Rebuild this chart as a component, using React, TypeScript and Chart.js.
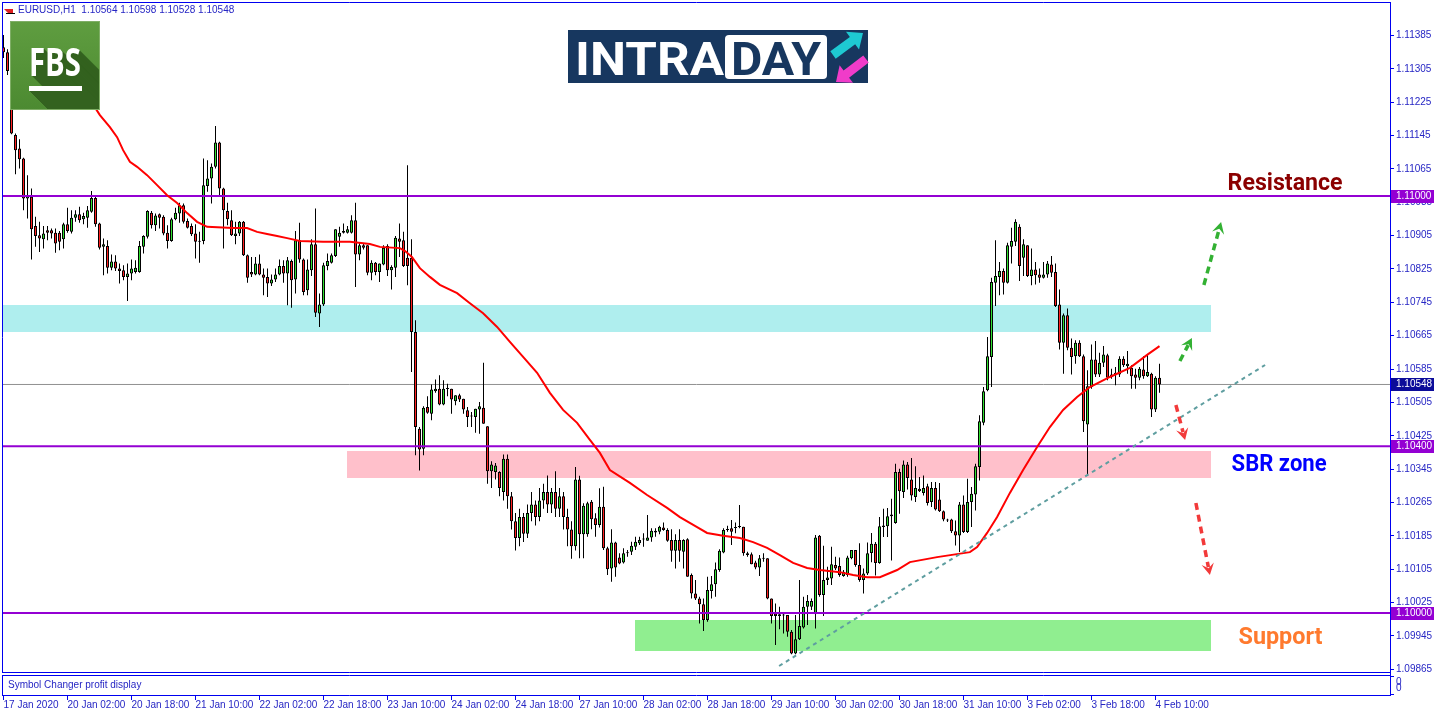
import React, { useEffect, useRef } from 'react';
import { Chart, registerables } from 'chart.js';

Chart.register(...registerables);

// ---------------- data ----------------
const timeLabels = ['17 Jan 2020', '20 Jan 02:00', '20 Jan 18:00', '21 Jan 10:00', '22 Jan 02:00', '22 Jan 18:00', '23 Jan 10:00', '24 Jan 02:00', '24 Jan 18:00', '27 Jan 10:00', '28 Jan 02:00', '28 Jan 18:00', '29 Jan 10:00', '30 Jan 02:00', '30 Jan 18:00', '31 Jan 10:00', '3 Feb 02:00', '3 Feb 18:00', '4 Feb 10:00'];
const timeTickBars = [0, 16, 32, 48, 64, 80, 96, 112, 128, 144, 160, 176, 192, 208, 224, 240, 256, 272, 288];
const priceTicks = ['1.11385', '1.11305', '1.11225', '1.11145', '1.11065', '1.10985', '1.10905', '1.10825', '1.10745', '1.10665', '1.10585', '1.10505', '1.10425', '1.10345', '1.10265', '1.10185', '1.10105', '1.10025', '1.09945', '1.09865'];

const opens = [
  1.11357, 1.11345, 1.11300, 1.11146, 1.11114, 1.11090, 1.10994, 1.10998, 1.10928, 1.10906,
  1.10896, 1.10918, 1.10918, 1.10912, 1.10912, 1.10896, 1.10932, 1.10914, 1.10948, 1.10956,
  1.10944, 1.10948, 1.10962, 1.10995, 1.10934, 1.10878, 1.10880, 1.10828, 1.10843, 1.10826,
  1.10822, 1.10806, 1.10814, 1.10818, 1.10818, 1.10878, 1.10902, 1.10960, 1.10930, 1.10956,
  1.10950, 1.10912, 1.10892, 1.10944, 1.10958, 1.10978, 1.10940, 1.10928, 1.10910, 1.10891,
  1.10892, 1.11024, 1.11042, 1.11070, 1.11128, 1.11018, 1.10964, 1.10942, 1.10904, 1.10910,
  1.10938, 1.10858, 1.10818, 1.10812, 1.10838, 1.10812, 1.10806, 1.10790, 1.10800, 1.10812,
  1.10832, 1.10814, 1.10844, 1.10800, 1.10894, 1.10848, 1.10774, 1.10822, 1.10884, 1.10718,
  1.10740, 1.10832, 1.10840, 1.10856, 1.10902, 1.10912, 1.10912, 1.10912, 1.10942, 1.10860,
  1.10882, 1.10882, 1.10816, 1.10840, 1.10818, 1.10836, 1.10880, 1.10822, 1.10828, 1.10898,
  1.10894, 1.10852, 1.10852, 1.10674, 1.10442, 1.10394, 1.10494, 1.10478, 1.10532, 1.10538,
  1.10500, 1.10538, 1.10538, 1.10508, 1.10522, 1.10514, 1.10486, 1.10472, 1.10470, 1.10488,
  1.10492, 1.10448, 1.10340, 1.10338, 1.10338, 1.10290, 1.10370, 1.10280, 1.10220, 1.10180,
  1.10230, 1.10190, 1.10240, 1.10260, 1.10230, 1.10270, 1.10290, 1.10260, 1.10290, 1.10250,
  1.10280, 1.10230, 1.10200, 1.10160, 1.10320, 1.10189, 1.10189, 1.10267, 1.10227, 1.10211,
  1.10255, 1.10155, 1.10107, 1.10169, 1.10133, 1.10121, 1.10143, 1.10147, 1.10159, 1.10167,
  1.10176, 1.10173, 1.10181, 1.10193, 1.10195, 1.10205, 1.10199, 1.10175, 1.10149, 1.10175,
  1.10147, 1.10177, 1.10091, 1.10047, 1.10035, 1.10021, 1.09983, 1.10053, 1.10069, 1.10103,
  1.10145, 1.10199, 1.10203, 1.10204, 1.10207, 1.10207, 1.10143, 1.10141, 1.10121, 1.10109,
  1.10131, 1.10131, 1.10035, 1.09999, 1.09997, 1.09995, 1.09995, 1.09955, 1.09903, 1.09937,
  1.09965, 1.10015, 1.10015, 1.09999, 1.10185, 1.10043, 1.10079, 1.10083, 1.10115, 1.10113,
  1.10089, 1.10091, 1.10131, 1.10151, 1.10115, 1.10079, 1.10095, 1.10144, 1.10166, 1.10120,
  1.10206, 1.10208, 1.10232, 1.10216, 1.10338, 1.10290, 1.10356, 1.10320, 1.10278, 1.10298,
  1.10288, 1.10304, 1.10266, 1.10300, 1.10272, 1.10244, 1.10224, 1.10224, 1.10196, 1.10186,
  1.10260, 1.10194, 1.10266, 1.10284, 1.10350, 1.10456, 1.10534, 1.10614, 1.10792, 1.10806,
  1.10820, 1.10792, 1.10878, 1.10890, 1.10926, 1.10852, 1.10882, 1.10808, 1.10824, 1.10812,
  1.10804, 1.10812, 1.10836, 1.10818, 1.10740, 1.10648, 1.10714, 1.10636, 1.10616, 1.10648,
  1.10616, 1.10452, 1.10542, 1.10608, 1.10572, 1.10600, 1.10618, 1.10572, 1.10570, 1.10572,
  1.10610, 1.10592, 1.10588, 1.10572, 1.10564, 1.10584, 1.10568, 1.10574, 1.10488, 1.10564,
];
const highs = [
  1.11386, 1.11352, 1.11310, 1.11150, 1.11136, 1.11092, 1.11050, 1.11018, 1.10950, 1.10938,
  1.10928, 1.10928, 1.10922, 1.10922, 1.10916, 1.10936, 1.10972, 1.10966, 1.10966, 1.10974,
  1.10960, 1.10976, 1.11012, 1.11002, 1.10936, 1.10898, 1.10894, 1.10860, 1.10858, 1.10838,
  1.10834, 1.10838, 1.10848, 1.10846, 1.10892, 1.10906, 1.10966, 1.10964, 1.10958, 1.10958,
  1.10954, 1.10930, 1.10948, 1.10972, 1.10984, 1.10982, 1.10946, 1.10934, 1.10932, 1.10914,
  1.11090, 1.11086, 1.11078, 1.11168, 1.11130, 1.11020, 1.10984, 1.10966, 1.10938, 1.10940,
  1.10940, 1.10860, 1.10854, 1.10854, 1.10860, 1.10826, 1.10826, 1.10812, 1.10826, 1.10848,
  1.10846, 1.10854, 1.10848, 1.10916, 1.10936, 1.10850, 1.10848, 1.10896, 1.10970, 1.10766,
  1.10840, 1.10862, 1.10862, 1.10920, 1.10926, 1.10934, 1.10928, 1.10954, 1.10984, 1.10888,
  1.10886, 1.10882, 1.10846, 1.10842, 1.10838, 1.10882, 1.10884, 1.10834, 1.10904, 1.10934,
  1.10914, 1.11074, 1.10896, 1.10702, 1.10446, 1.10496, 1.10520, 1.10548, 1.10560, 1.10570,
  1.10558, 1.10550, 1.10538, 1.10522, 1.10526, 1.10514, 1.10494, 1.10482, 1.10490, 1.10506,
  1.10600, 1.10448, 1.10364, 1.10360, 1.10340, 1.10380, 1.10380, 1.10290, 1.10240, 1.10250,
  1.10240, 1.10260, 1.10290, 1.10270, 1.10300, 1.10310, 1.10330, 1.10300, 1.10340, 1.10300,
  1.10290, 1.10250, 1.10220, 1.10350, 1.10329, 1.10263, 1.10267, 1.10271, 1.10239, 1.10299,
  1.10303, 1.10159, 1.10201, 1.10171, 1.10143, 1.10155, 1.10151, 1.10171, 1.10183, 1.10183,
  1.10191, 1.10235, 1.10203, 1.10203, 1.10209, 1.10217, 1.10203, 1.10201, 1.10189, 1.10201,
  1.10177, 1.10179, 1.10095, 1.10079, 1.10039, 1.10035, 1.10087, 1.10089, 1.10121, 1.10153,
  1.10203, 1.10209, 1.10223, 1.10217, 1.10259, 1.10207, 1.10147, 1.10145, 1.10125, 1.10139,
  1.10143, 1.10131, 1.10035, 1.10023, 1.10015, 1.09999, 1.09995, 1.09959, 1.09995, 1.10079,
  1.10039, 1.10043, 1.10035, 1.10187, 1.10187, 1.10161, 1.10111, 1.10159, 1.10135, 1.10133,
  1.10103, 1.10137, 1.10151, 1.10151, 1.10167, 1.10107, 1.10169, 1.10192, 1.10170, 1.10230,
  1.10250, 1.10252, 1.10274, 1.10358, 1.10346, 1.10366, 1.10362, 1.10372, 1.10352, 1.10326,
  1.10330, 1.10310, 1.10314, 1.10314, 1.10312, 1.10246, 1.10226, 1.10226, 1.10222, 1.10266,
  1.10282, 1.10322, 1.10302, 1.10358, 1.10474, 1.10542, 1.10662, 1.10804, 1.10894, 1.10842,
  1.10826, 1.10888, 1.10924, 1.10944, 1.10932, 1.10896, 1.10882, 1.10874, 1.10842, 1.10826,
  1.10842, 1.10844, 1.10856, 1.10838, 1.10776, 1.10718, 1.10730, 1.10658, 1.10654, 1.10654,
  1.10620, 1.10582, 1.10644, 1.10652, 1.10624, 1.10640, 1.10622, 1.10586, 1.10590, 1.10616,
  1.10616, 1.10628, 1.10594, 1.10586, 1.10590, 1.10616, 1.10620, 1.10576, 1.10568, 1.10598,
];
const lows = [
  1.11331, 1.11290, 1.11148, 1.11052, 1.11066, 1.10966, 1.10946, 1.10848, 1.10878, 1.10866,
  1.10874, 1.10894, 1.10898, 1.10864, 1.10870, 1.10874, 1.10912, 1.10910, 1.10938, 1.10936,
  1.10932, 1.10924, 1.10960, 1.10926, 1.10872, 1.10810, 1.10814, 1.10822, 1.10820, 1.10790,
  1.10798, 1.10748, 1.10798, 1.10814, 1.10816, 1.10862, 1.10898, 1.10922, 1.10916, 1.10922,
  1.10906, 1.10874, 1.10890, 1.10942, 1.10936, 1.10934, 1.10922, 1.10904, 1.10850, 1.10840,
  1.10884, 1.11010, 1.10982, 1.11066, 1.11002, 1.10874, 1.10930, 1.10904, 1.10884, 1.10904,
  1.10856, 1.10792, 1.10806, 1.10810, 1.10810, 1.10762, 1.10758, 1.10784, 1.10794, 1.10810,
  1.10792, 1.10738, 1.10732, 1.10766, 1.10840, 1.10762, 1.10762, 1.10808, 1.10710, 1.10686,
  1.10736, 1.10822, 1.10838, 1.10854, 1.10878, 1.10910, 1.10910, 1.10910, 1.10782, 1.10846,
  1.10872, 1.10810, 1.10798, 1.10810, 1.10794, 1.10834, 1.10808, 1.10776, 1.10806, 1.10854,
  1.10830, 1.10786, 1.10578, 1.10378, 1.10342, 1.10378, 1.10478, 1.10462, 1.10528, 1.10498,
  1.10498, 1.10520, 1.10478, 1.10498, 1.10506, 1.10478, 1.10446, 1.10446, 1.10432, 1.10430,
  1.10454, 1.10310, 1.10300, 1.10320, 1.10280, 1.10270, 1.10250, 1.10200, 1.10150, 1.10160,
  1.10170, 1.10180, 1.10220, 1.10210, 1.10220, 1.10250, 1.10240, 1.10240, 1.10230, 1.10230,
  1.10200, 1.10160, 1.10130, 1.10150, 1.10131, 1.10131, 1.10183, 1.10201, 1.10183, 1.10205,
  1.10151, 1.10091, 1.10075, 1.10087, 1.10117, 1.10119, 1.10135, 1.10139, 1.10151, 1.10163,
  1.10159, 1.10173, 1.10171, 1.10183, 1.10189, 1.10197, 1.10171, 1.10123, 1.10107, 1.10123,
  1.10107, 1.10087, 1.10035, 1.10031, 1.09975, 1.09957, 1.09979, 1.10035, 1.10039, 1.10099,
  1.10143, 1.10195, 1.10163, 1.10191, 1.10203, 1.10137, 1.10135, 1.10117, 1.10105, 1.10089,
  1.10123, 1.10033, 1.09975, 1.09923, 1.09961, 1.09951, 1.09943, 1.09901, 1.09901, 1.09935,
  1.09963, 1.09971, 1.10007, 1.09963, 1.10039, 1.09993, 1.10067, 1.10067, 1.10103, 1.10087,
  1.10087, 1.10087, 1.10129, 1.10111, 1.10075, 1.10047, 1.10091, 1.10122, 1.10090, 1.10118,
  1.10182, 1.10182, 1.10126, 1.10214, 1.10238, 1.10276, 1.10296, 1.10270, 1.10266, 1.10290,
  1.10282, 1.10258, 1.10254, 1.10246, 1.10242, 1.10220, 1.10218, 1.10192, 1.10162, 1.10146,
  1.10192, 1.10192, 1.10206, 1.10246, 1.10318, 1.10450, 1.10532, 1.10542, 1.10736, 1.10762,
  1.10764, 1.10790, 1.10838, 1.10880, 1.10796, 1.10808, 1.10806, 1.10786, 1.10788, 1.10792,
  1.10802, 1.10804, 1.10806, 1.10734, 1.10632, 1.10574, 1.10630, 1.10572, 1.10598, 1.10614,
  1.10434, 1.10330, 1.10538, 1.10566, 1.10566, 1.10590, 1.10558, 1.10562, 1.10546, 1.10566,
  1.10590, 1.10574, 1.10538, 1.10538, 1.10558, 1.10562, 1.10566, 1.10470, 1.10482, 1.10528,
];
const closes = [
  1.11345, 1.11300, 1.11150, 1.11110, 1.11088, 1.10994, 1.11002, 1.10920, 1.10904, 1.10898,
  1.10910, 1.10912, 1.10910, 1.10886, 1.10890, 1.10932, 1.10916, 1.10948, 1.10956, 1.10942,
  1.10952, 1.10966, 1.10995, 1.10932, 1.10876, 1.10884, 1.10828, 1.10843, 1.10826, 1.10820,
  1.10806, 1.10814, 1.10826, 1.10828, 1.10880, 1.10904, 1.10964, 1.10930, 1.10953, 1.10948,
  1.10910, 1.10892, 1.10944, 1.10960, 1.10978, 1.10938, 1.10924, 1.10908, 1.10890, 1.10890,
  1.11026, 1.11042, 1.11070, 1.11128, 1.11018, 1.10966, 1.10944, 1.10906, 1.10910, 1.10938,
  1.10858, 1.10804, 1.10812, 1.10838, 1.10812, 1.10804, 1.10790, 1.10800, 1.10812, 1.10832,
  1.10814, 1.10846, 1.10798, 1.10894, 1.10848, 1.10770, 1.10824, 1.10884, 1.10720, 1.10740,
  1.10834, 1.10844, 1.10858, 1.10920, 1.10912, 1.10916, 1.10920, 1.10942, 1.10860, 1.10882,
  1.10876, 1.10816, 1.10840, 1.10818, 1.10838, 1.10876, 1.10822, 1.10830, 1.10900, 1.10890,
  1.10832, 1.10832, 1.10674, 1.10446, 1.10392, 1.10492, 1.10480, 1.10536, 1.10538, 1.10500,
  1.10538, 1.10537, 1.10512, 1.10522, 1.10512, 1.10488, 1.10470, 1.10471, 1.10490, 1.10496,
  1.10454, 1.10340, 1.10356, 1.10354, 1.10300, 1.10370, 1.10280, 1.10220, 1.10180, 1.10230,
  1.10190, 1.10240, 1.10260, 1.10230, 1.10270, 1.10290, 1.10260, 1.10290, 1.10250, 1.10280,
  1.10230, 1.10200, 1.10160, 1.10320, 1.10189, 1.10257, 1.10263, 1.10225, 1.10211, 1.10255,
  1.10155, 1.10105, 1.10169, 1.10109, 1.10119, 1.10143, 1.10145, 1.10161, 1.10171, 1.10175,
  1.10177, 1.10181, 1.10197, 1.10197, 1.10207, 1.10199, 1.10173, 1.10149, 1.10175, 1.10149,
  1.10175, 1.10087, 1.10047, 1.10035, 1.10021, 1.09983, 1.10055, 1.10069, 1.10105, 1.10149,
  1.10199, 1.10200, 1.10195, 1.10205, 1.10206, 1.10143, 1.10139, 1.10117, 1.10109, 1.10131,
  1.10130, 1.10035, 1.09993, 1.09993, 1.09993, 1.09994, 1.09955, 1.09903, 1.09937, 1.09969,
  1.10015, 1.10029, 1.10029, 1.10181, 1.10043, 1.10079, 1.10085, 1.10117, 1.10107, 1.10091,
  1.10099, 1.10133, 1.10151, 1.10115, 1.10079, 1.10095, 1.10143, 1.10166, 1.10120, 1.10208,
  1.10210, 1.10232, 1.10236, 1.10338, 1.10292, 1.10356, 1.10324, 1.10282, 1.10300, 1.10292,
  1.10300, 1.10264, 1.10300, 1.10248, 1.10244, 1.10224, 1.10222, 1.10196, 1.10186, 1.10260,
  1.10194, 1.10266, 1.10286, 1.10352, 1.10460, 1.10532, 1.10616, 1.10794, 1.10808, 1.10820,
  1.10792, 1.10882, 1.10892, 1.10938, 1.10832, 1.10884, 1.10808, 1.10824, 1.10810, 1.10804,
  1.10812, 1.10838, 1.10816, 1.10736, 1.10648, 1.10714, 1.10636, 1.10614, 1.10648, 1.10616,
  1.10460, 1.10544, 1.10608, 1.10572, 1.10600, 1.10620, 1.10564, 1.10566, 1.10576, 1.10610,
  1.10594, 1.10598, 1.10568, 1.10564, 1.10586, 1.10568, 1.10578, 1.10488, 1.10564, 1.10548,
];

// moving average (bar index, price)
const maBars = [16, 21, 24.1, 26.6, 28.4, 29.9, 31.6, 33.4, 35.9, 38.4, 40.9, 43.4,
  45.9, 48.4, 50.9, 57.4, 60.9, 63.4, 65.9, 68.4, 70.9, 74.1,
  79.9, 86.6, 91.6, 94.1, 99.1, 100.4, 102.1, 104.1, 106.6, 109.1,
  113.4, 116.6, 119.9, 123.4, 126.6, 129.9, 133.4, 136.6, 139.9, 143.4,
  146.6, 149.1, 151.6, 156.6, 160.9, 165.9, 169.1, 173.4, 175.9, 179.9,
  184.1, 187.4, 190.9, 194.1, 197.4, 200.9, 204.1, 209.1, 212.4, 215.9,
  219.1, 223.4, 226.6, 233.4, 241.6, 243.4, 245.9, 248.4, 251.6, 254.9,
  258.4, 261.6, 264.9, 268.4, 271.6, 276.6, 281.6, 285.9, 289];
const maValues = [1.11300, 1.11240, 1.11194, 1.11165, 1.11141, 1.11110, 1.11082, 1.11070, 1.11050, 1.11026, 1.11002, 1.10983,
  1.10959, 1.10938, 1.10926, 1.10923, 1.10923, 1.10914, 1.10909, 1.10904, 1.10899, 1.10892,
  1.10890, 1.10890, 1.10885, 1.10878, 1.10875, 1.10868, 1.10854, 1.10827, 1.10806, 1.10787,
  1.10767, 1.10743, 1.10719, 1.10686, 1.10650, 1.10614, 1.10576, 1.10528, 1.10487, 1.10456,
  1.10415, 1.10384, 1.10343, 1.10312, 1.10283, 1.10252, 1.10230, 1.10206, 1.10192, 1.10185,
  1.10180, 1.10170, 1.10156, 1.10139, 1.10120, 1.10108, 1.10103, 1.10098, 1.10091, 1.10086,
  1.10086, 1.10103, 1.10122, 1.10134, 1.10146, 1.10158, 1.10192, 1.10230, 1.10288, 1.10343,
  1.10398, 1.10446, 1.10487, 1.10518, 1.10542, 1.10566, 1.10588, 1.10619, 1.10640];

const levelPrices = [1.11, 1.104, 1.1];
const bidPrice = 1.10548;
const trendBars = [193.9, 315.4];
const trendPrices = [1.098729, 1.105947];

const zoneStartBars = [-0.125, 85.875, 157.875];
const zoneEndBars = [301.875, 301.875, 301.875];
const zoneTopPrices = [1.107386, 1.103885, 1.099832];
const zoneBottomPrices = [1.106739, 1.103237, 1.099089];

const arrowTailBars = [300.1, 294.1, 293.1, 298.1];
const arrowTailPrices = [1.107866, 1.106043, 1.104988, 1.102638];
const arrowHeadBars = [304.4, 297.1, 295.4, 301.6];
const arrowHeadPrices = [1.109376, 1.106595, 1.104149, 1.100911];

const noteTexts = ['Resistance', 'SBR zone', 'Support'];
const noteBars = [320.4, 318.9, 319.25];
const notePrices = [1.110144, 1.103405, 1.099257];

const headerText = 'EURUSD,H1  1.10564 1.10598 1.10528 1.10548';
const subWindowText = 'Symbol Changer profit display';

// ---------------- styles / layout ----------------
const W = 1436;
const H = 716;
const X_MIN = -0.125;
const X_MAX = 346.625;
const Y_MIN = 1.09858513;
const Y_MAX = 1.1146283;
const FONT = '"Liberation Sans", Arial, sans-serif';
const FRAME = '#0000f0';
const LABEL = '#2626c4';
const LEVEL = '#9400d3';
const BID = '#909090';
const BID_LABEL = '#0c0c9a';
const BULL = '#30e030';
const BEAR = '#ff2020';
const MA = '#ff0000';
const TREND = '#5f9ea0';
const ZONE_COLORS = ['#afeeee', '#ffc0cb', '#90ee90'];
const ARROW_COLORS = ['#33b133', '#33b133', '#f23a3a', '#f23a3a'];
const NOTE_COLORS = ['#8b0000', '#0000ff', '#ff7a2e'];
const NOTE_WIDTHS = [115, 95, 84];

function fitText(ctx: any, text: string, x: number, y: number, width: number, font: string, color: string, center = false) {
  ctx.save();
  ctx.font = font;
  ctx.fillStyle = color;
  ctx.textAlign = 'left';
  ctx.textBaseline = 'alphabetic';
  const w = ctx.measureText(text).width;
  const s = width / w;
  ctx.translate(center ? x - width / 2 : x, y);
  ctx.scale(s, 1);
  ctx.fillText(text, 0, 0);
  ctx.restore();
}

function dashedArrow(ctx: any, x1: number, y1: number, x2: number, y2: number, color: string) {
  const ang = Math.atan2(y2 - y1, x2 - x1);
  const sx = x2 - Math.cos(ang) * 8;
  const sy = y2 - Math.sin(ang) * 8;
  ctx.save();
  ctx.strokeStyle = color;
  ctx.lineWidth = 3.5;
  ctx.setLineDash([7, 5]);
  ctx.beginPath();
  ctx.moveTo(x1, y1);
  ctx.lineTo(sx, sy);
  ctx.stroke();
  ctx.setLineDash([]);
  ctx.fillStyle = color;
  const L = 13;
  const a = 0.5;
  ctx.beginPath();
  ctx.moveTo(x2, y2);
  ctx.lineTo(x2 - L * Math.cos(ang - a), y2 - L * Math.sin(ang - a));
  ctx.lineTo(x2 - 7 * Math.cos(ang), y2 - 7 * Math.sin(ang));
  ctx.lineTo(x2 - L * Math.cos(ang + a), y2 - L * Math.sin(ang + a));
  ctx.closePath();
  ctx.fill();
  ctx.restore();
}

function blockArrow(ctx: any, x1: number, y1: number, x2: number, y2: number, color: string) {
  const ang = Math.atan2(y2 - y1, x2 - x1);
  const len = Math.hypot(x2 - x1, y2 - y1);
  const hw = 4.5, headL = 13, headW = 11;
  ctx.save();
  ctx.translate(x1, y1);
  ctx.rotate(ang);
  ctx.fillStyle = color;
  ctx.beginPath();
  ctx.moveTo(0, -hw);
  ctx.lineTo(len - headL, -hw);
  ctx.lineTo(len - headL, -headW);
  ctx.lineTo(len, 0);
  ctx.lineTo(len - headL, headW);
  ctx.lineTo(len - headL, hw);
  ctx.lineTo(0, hw);
  ctx.closePath();
  ctx.fill();
  ctx.restore();
}

function drawFbs(ctx: any) {
  const x0 = 10, y0 = 21, w = 90, h = 89;
  ctx.save();
  ctx.beginPath();
  ctx.rect(x0, y0, w, h);
  ctx.clip();
  const g = ctx.createLinearGradient(x0, y0, x0, y0 + h);
  g.addColorStop(0, '#5f9d40');
  g.addColorStop(1, '#4c8a31');
  ctx.fillStyle = g;
  ctx.fillRect(x0, y0, w, h);
  for (let k = 60; k >= 1; k--) {
    fitText(ctx, 'FBS', 29 + k, 76 + k, 52, 'bold 40px "Open Sans", sans-serif', '#33621f');
    ctx.fillStyle = '#33621f';
    ctx.fillRect(29 + k, 86 + k, 53, 5);
  }
  fitText(ctx, 'FBS', 29, 76, 52, 'bold 40px "Open Sans", sans-serif', '#ffffff');
  ctx.fillStyle = '#ffffff';
  ctx.fillRect(29, 86, 53, 5);
  ctx.restore();
  ctx.strokeStyle = '#7fae66';
  ctx.lineWidth = 1;
  ctx.strokeRect(x0 + 0.5, y0 + 0.5, w - 1, h - 1);
}

function drawIntraday(ctx: any) {
  ctx.save();
  ctx.fillStyle = '#17375f';
  ctx.fillRect(568, 30, 300, 53);
  ctx.fillStyle = '#ffffff';
  ctx.beginPath();
  ctx.roundRect(725, 35, 102, 44, 4);
  ctx.fill();
  fitText(ctx, 'INTRA', 575, 75, 149, 'bold 46px Roboto, sans-serif', '#ffffff');
  fitText(ctx, 'DAY', 731, 75, 90, 'bold 46px Roboto, sans-serif', '#17375f');
  blockArrow(ctx, 833, 55, 863, 33, '#1ec9d2');
  blockArrow(ctx, 866, 59, 836, 82, '#f03cc9');
  ctx.restore();
}

const overlayPlugin = {
  id: 'overlay',
  beforeDatasetsDraw(chart: any) {
    const { ctx, chartArea: a, scales } = chart;
    const xs = scales.x, ys = scales.y;
    ctx.save();
    ctx.beginPath();
    ctx.rect(a.left, a.top, a.right - a.left, a.bottom - a.top);
    ctx.clip();
    zoneStartBars.forEach((_, k) => {
      const x0 = Math.round(xs.getPixelForValue(zoneStartBars[k]));
      const x1 = Math.round(xs.getPixelForValue(zoneEndBars[k]));
      const y0 = Math.round(ys.getPixelForValue(zoneTopPrices[k]));
      const y1 = Math.round(ys.getPixelForValue(zoneBottomPrices[k]));
      ctx.fillStyle = ZONE_COLORS[k];
      ctx.fillRect(x0, y0, x1 - x0, y1 - y0);
    });
    ctx.restore();
  },
  afterDatasetsDraw(chart: any) {
    const { ctx, scales } = chart;
    const xs = scales.x, ys = scales.y;
    arrowTailBars.forEach((_, k) => {
      dashedArrow(ctx,
        xs.getPixelForValue(arrowTailBars[k]), ys.getPixelForValue(arrowTailPrices[k]),
        xs.getPixelForValue(arrowHeadBars[k]), ys.getPixelForValue(arrowHeadPrices[k]),
        ARROW_COLORS[k]);
    });
  },
  afterDraw(chart: any) {
    const { ctx, chartArea: a, scales } = chart;
    const xs = scales.x, ys = scales.y;
    const R = a.right;
    ctx.save();
    ctx.strokeStyle = FRAME;
    ctx.lineWidth = 1;
    ctx.beginPath();
    ctx.moveTo(2, 2.5); ctx.lineTo(R + 1, 2.5);
    ctx.moveTo(2.5, 2); ctx.lineTo(2.5, 673);
    ctx.moveTo(2, 672.5); ctx.lineTo(R + 1, 672.5);
    ctx.moveTo(2, 675.5); ctx.lineTo(R + 1, 675.5);
    ctx.moveTo(2, 695.5); ctx.lineTo(R + 1, 695.5);
    ctx.moveTo(2.5, 675); ctx.lineTo(2.5, 696);
    ctx.moveTo(R + 0.5, 672); ctx.lineTo(R + 0.5, 696);
    ctx.moveTo(R, 676.5); ctx.lineTo(R + 4, 676.5);
    ctx.moveTo(R, 694.5); ctx.lineTo(R + 4, 694.5);
    timeTickBars.forEach((b) => {
      const px = Math.floor(xs.getPixelForValue(b)) + 0.5;
      ctx.moveTo(px, 696); ctx.lineTo(px, 700);
    });
    ctx.stroke();

    ctx.font = '10px ' + FONT;
    ctx.textBaseline = 'middle';
    ctx.textAlign = 'left';
    ctx.fillStyle = LABEL;
    ctx.fillText(subWindowText, 8, 685);
    ctx.fillText('0', R + 6, 682);
    ctx.fillText('0', R + 6, 688);

    // special price labels on the axis
    const specials: [number, string][] = [
      [levelPrices[0], LEVEL], [levelPrices[1], LEVEL], [levelPrices[2], LEVEL], [bidPrice, BID_LABEL],
    ];
    specials.forEach(([p, bg]) => {
      const py = Math.round(ys.getPixelForValue(p));
      ctx.fillStyle = bg;
      ctx.fillRect(R + 1, py - 6, 43, 13);
      ctx.fillStyle = '#ffffff';
      ctx.fillText(p.toFixed(5), R + 6, py + 0.5);
    });

    // header
    ctx.fillStyle = LABEL;
    ctx.fillText(headerText, 18, 10);
    ctx.fillStyle = '#e02020';
    ctx.beginPath();
    ctx.moveTo(4, 9); ctx.lineTo(13, 9); ctx.lineTo(13, 13); ctx.lineTo(8, 13); ctx.closePath();
    ctx.fill();
    ctx.fillStyle = '#000000';
    ctx.fillRect(6, 13, 9, 1);

    drawFbs(ctx);
    drawIntraday(ctx);

    noteTexts.forEach((t, k) => {
      fitText(ctx, t, xs.getPixelForValue(noteBars[k]), ys.getPixelForValue(notePrices[k]), NOTE_WIDTHS[k],
        'bold 24px Roboto, sans-serif', NOTE_COLORS[k], true);
    });
    ctx.restore();
  },
};

function buildConfig() {
  const idx = opens.map((_, i) => i);
  const wickData = idx.map((i) => ({ x: i, y: [lows[i], highs[i]] }));
  const bodyData = idx.map((i) => ({ x: i, y: [opens[i], closes[i]] }));
  const bodyColors = idx.map((i) => (closes[i] >= opens[i] ? BULL : BEAR));
  const maData = maBars.map((b, k) => ({ x: b, y: maValues[k] }));
  const hLine = (p: number) => [{ x: X_MIN, y: p }, { x: X_MAX, y: p }];

  const datasets: any[] = [
    { type: 'line', data: hLine(bidPrice), borderColor: BID, borderWidth: 1, pointRadius: 0, order: 10 },
    { type: 'bar', data: wickData, backgroundColor: '#000000', borderWidth: 0, barThickness: 1, grouped: false, minBarLength: 1, inflateAmount: 0, order: 9 },
    { type: 'bar', data: bodyData, backgroundColor: bodyColors, borderColor: '#000000', borderWidth: 1, borderSkipped: false, barThickness: 3, grouped: false, minBarLength: 1, inflateAmount: 0, order: 8 },
    ...levelPrices.map((p) => ({ type: 'line', data: hLine(p), borderColor: LEVEL, borderWidth: 2, pointRadius: 0, order: 7 })),
    { type: 'line', data: maData, borderColor: MA, borderWidth: 2, pointRadius: 0, tension: 0, order: 6 },
    { type: 'line', data: trendBars.map((b, k) => ({ x: b, y: trendPrices[k] })), borderColor: TREND, borderWidth: 2, borderDash: [4, 4], pointRadius: 0, order: 5 },
  ];

  return {
    type: 'bar',
    data: { datasets },
    plugins: [overlayPlugin],
    options: {
      responsive: false,
      animation: false,
      devicePixelRatio: 1,
      events: [],
      layout: { padding: { left: 3, top: 3, right: 0, bottom: 0 } },
      plugins: { legend: { display: false }, tooltip: { enabled: false } },
      scales: {
        x: {
          type: 'linear',
          position: 'bottom',
          min: X_MIN,
          max: X_MAX,
          offset: false,
          grid: { display: false, drawTicks: false },
          border: { display: false },
          afterBuildTicks: (s: any) => { s.ticks = timeTickBars.map((v) => ({ value: v })); },
          afterFit: (s: any) => { s.height = H - 672; s.paddingLeft = 0; s.paddingRight = 0; },
          ticks: {
            autoSkip: false, maxRotation: 0, minRotation: 0, align: 'start', padding: 27,
            color: LABEL, font: { family: FONT, size: 10 },
            callback: (_v: any, i: number) => timeLabels[i] ?? '',
          },
        },
        y: {
          type: 'linear',
          position: 'right',
          min: Y_MIN,
          max: Y_MAX,
          beginAtZero: false,
          grid: { display: true, drawOnChartArea: false, drawTicks: true, tickLength: 4, color: FRAME },
          border: { display: true, color: FRAME, width: 1 },
          afterBuildTicks: (s: any) => { s.ticks = priceTicks.map((t) => ({ value: parseFloat(t) })); },
          afterFit: (s: any) => { s.width = W - 1390; s.paddingTop = 0; s.paddingBottom = 0; },
          ticks: {
            autoSkip: false, padding: 2, color: LABEL, font: { family: FONT, size: 10 },
            callback: (_v: any, i: number) => priceTicks[i] ?? '',
          },
        },
      },
    },
  };
}

export default function App() {
  const ref = useRef<HTMLCanvasElement | null>(null);
  useEffect(() => {
    document.body.style.margin = '0';
    if (!ref.current) return;
    const chart = new Chart(ref.current, buildConfig() as any);
    return () => chart.destroy();
  }, []);
  return (
    <div style={{ position: 'absolute', left: 0, top: 0, width: W, height: H, background: '#ffffff', overflow: 'hidden' }}>
      <canvas ref={ref} width={W} height={H} style={{ display: 'block', width: W, height: H }} />
    </div>
  );
}
